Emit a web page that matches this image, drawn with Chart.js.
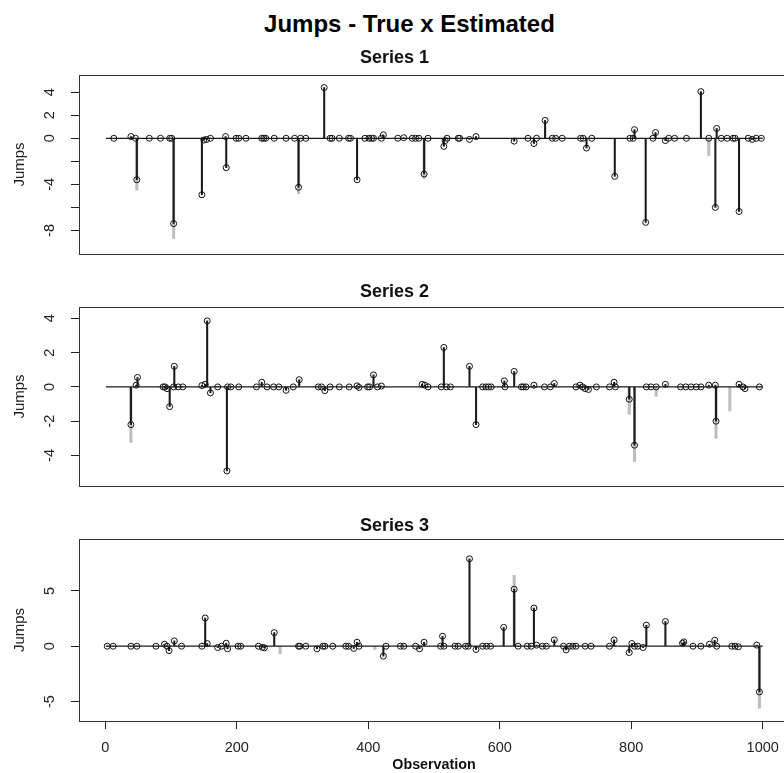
<!DOCTYPE html>
<html>
<head>
<meta charset="utf-8">
<title>Jumps - True x Estimated</title>
<script src="https://cdn.jsdelivr.net/npm/chart.js@4.4.1/dist/chart.umd.min.js"></script>
<style>
  html, body { margin: 0; padding: 0; background: #fff; overflow: hidden; }
  body { position: relative; width: 784px; height: 773px; }
  #main { position: absolute; left: 0; top: 12px; width: 819px; text-align: center;
          font: bold 24px "Liberation Sans", Arial, sans-serif; line-height: 24px; color: #000; }
  canvas { position: absolute; left: 0; }
</style>
</head>
<body>
<div id="main">Jumps - True x Estimated</div>
<canvas id="c1" width="867" height="219" style="top:40px"></canvas>
<canvas id="c2" width="867" height="219" style="top:272px"></canvas>
<canvas id="c3" width="867" height="269" style="top:504px"></canvas>
<script>
// observation axis
const xTicks = [0, 200, 400, 600, 800, 1000];
const zeroObs = [1, 1000];

// Series 1 : estimated jumps (circles + black spikes) and true jumps (grey spikes)
const est1Obs = [13, 39, 46, 48, 67, 84, 98, 101, 104, 147, 150, 154, 160, 183, 184, 199, 203, 214, 238, 241,
  244, 257, 275, 288, 294, 297, 305, 333, 342, 345, 356, 370, 373, 383, 395, 401, 405, 408, 420, 423,
  445, 454, 467, 472, 477, 485, 491, 515, 517, 520, 537, 539, 554, 564, 622, 643, 652, 656, 669, 680,
  685, 695, 723, 727, 732, 740, 775, 798, 803, 805, 822, 833, 837, 852, 857, 866, 884, 906, 918, 928,
  930, 937, 946, 955, 958, 964, 978, 984, 990, 998];
const est1Val = [0, 0.15, 0, -3.6, 0, 0, 0, 0, -7.4, -4.9, -0.15, -0.1, 0, 0.15, -2.55, 0, 0, 0, 0, 0,
  0, 0, 0, 0, -4.25, 0, 0, 4.4, 0, 0, 0, 0, 0, -3.6, 0, 0, 0, 0, 0, 0.3,
  0, 0.05, 0, 0, 0, -3.1, 0, -0.7, -0.2, 0, 0, 0, -0.1, 0.15, -0.25, 0, -0.45, 0, 1.55, 0,
  0, 0, 0, 0, -0.85, 0, -3.3, 0, 0, 0.75, -7.3, 0, 0.5, -0.2, 0, 0, 0, 4.05, 0, -6.0,
  0.85, 0, 0, 0, 0, -6.35, 0, -0.1, 0, 0];
const true1Obs = [48, 104, 294, 485, 918];
const true1Val = [-4.5, -8.7, -4.8, -3.5, -1.5];
const y1Ticks = [-8, -6, -4, -2, 0, 2, 4];
const y1Labels = [-8, -4, 0, 2, 4];

// Series 2
const est2Obs = [39, 47, 49, 88, 91, 94, 98, 104, 105, 111, 118, 147, 152, 155, 160, 171, 185, 186, 191, 203,
  230, 238, 246, 256, 264, 275, 286, 295, 324, 329, 334, 342, 356, 371, 383, 386, 399, 402, 408, 414,
  420, 482, 486, 491, 511, 515, 519, 525, 554, 564, 574, 579, 583, 587, 607, 608, 622, 633, 636, 640,
  652, 668, 677, 683, 716, 722, 726, 730, 735, 747, 767, 774, 776, 797, 805, 823, 830, 838, 852, 875,
  883, 891, 899, 906, 918, 928, 929, 964, 970, 973, 995];
const est2Val = [-2.2, 0.1, 0.55, 0, 0, -0.1, -1.15, 0, 1.2, 0, 0, 0.08, 0.15, 3.85, -0.35, 0, -4.9, 0, 0, 0,
  0, 0.27, 0, 0, 0, -0.2, 0, 0.42, 0, 0, -0.22, 0, 0, 0, 0.06, -0.03, 0, 0, 0.7, 0,
  0.05, 0.15, 0.1, 0, 0, 2.3, 0, 0, 1.2, -2.2, 0, 0, 0, 0, 0.35, 0, 0.9, 0, 0, 0,
  0.1, 0, 0, 0.2, 0, 0.1, 0, -0.1, -0.15, 0, 0, 0.27, 0, -0.72, -3.4, 0, 0, 0, 0.15, 0,
  0, 0, 0, 0, 0.1, 0.1, -2.0, 0.15, 0, -0.1, 0];
const true2Obs = [39, 797, 805, 838, 929, 950];
const true2Val = [-3.25, -1.6, -4.35, -0.55, -3.0, -1.4];
const y2Ticks = [-4, -2, 0, 2, 4];
const y2Labels = [-4, -2, 0, 2, 4];

// Series 3
const est3Obs = [3, 12, 39, 48, 77, 90, 94, 97, 105, 116, 147, 152, 155, 171, 177, 184, 186, 202, 206, 233,
  239, 242, 257, 294, 296, 305, 322, 331, 334, 346, 366, 370, 378, 383, 386, 423, 427, 449, 454, 472,
  478, 485, 510, 513, 515, 532, 537, 548, 552, 554, 564, 574, 580, 586, 606, 622, 628, 642, 648, 652,
  656, 665, 671, 683, 697, 701, 706, 711, 716, 730, 739, 767, 774, 797, 801, 805, 810, 818, 823, 852,
  878, 880, 894, 906, 919, 927, 930, 953, 958, 963, 991, 995];
const est3Val = [0, 0, 0, 0, 0, 0.18, 0, -0.4, 0.48, 0, 0, 2.55, 0.24, -0.12, 0, 0.27, -0.24, 0, 0, 0,
  -0.1, -0.15, 1.23, 0, 0, 0, -0.24, 0, 0, 0, 0, 0, -0.2, 0.36, 0, -0.9, 0, 0, 0, 0,
  -0.24, 0.36, 0, 0.9, 0, 0, 0, 0, 0, 7.9, -0.3, 0, 0, 0, 1.7, 5.15, 0, 0, 0, 3.45,
  0.1, 0, 0, 0.57, 0, -0.33, 0, 0, 0, 0, 0, 0, 0.57, -0.57, 0.24, 0, 0, -0.12, 1.9, 2.23,
  0.27, 0.39, 0, 0, 0.18, 0.54, 0, 0, 0, -0.05, 0.1, -4.13];
const true3Obs = [266, 410, 622, 995];
const true3Val = [-0.7, -0.3, 6.4, -5.6];
const y3Ticks = [-5, 0, 5];
const y3Labels = [-5, 0, 5];

const fontFamily = '"Liberation Sans", Arial, sans-serif';
Chart.defaults.font.family = fontFamily;
Chart.defaults.color = '#222';

function pts(xs, ys) {
  return xs.map((x, i) => ({ x: x, y: ys[i] }));
}

// box round the plot region and rotated y tick labels (R style)
const rBox = {
  id: 'rbox',
  afterDraw(chart, args, opts) {
    const a = chart.chartArea, ctx = chart.ctx, y = chart.scales.y;
    ctx.save();
    ctx.strokeStyle = '#333';
    ctx.lineWidth = 1;
    ctx.strokeRect(Math.round(a.left) + 0.5, Math.round(a.top) + 0.5,
      Math.round(a.right - a.left), Math.round(a.bottom - a.top));
    ctx.fillStyle = '#222';
    ctx.font = '14.5px ' + fontFamily;
    ctx.textAlign = 'center';
    ctx.textBaseline = 'middle';
    opts.labels.forEach(v => {
      ctx.save();
      ctx.translate(50, y.getPixelForValue(v));
      ctx.rotate(-Math.PI / 2);
      ctx.fillText(String(v), 0, 0);
      ctx.restore();
    });
    ctx.restore();
  }
};

function panel(id, title, est, tru, yMin, yMax, yTicks, yLabels, showX, titleShift) {
  return new Chart(document.getElementById(id), {
    type: 'bar',
    data: {
      datasets: [
        { type: 'bar', data: tru, backgroundColor: '#bebebe', barThickness: 2.4, grouped: false, order: 4 },
        { type: 'bar', data: est, backgroundColor: '#1a1a1a', barThickness: 1.4, grouped: false, order: 3 },
        { type: 'line', data: pts(zeroObs, [0, 0]), borderColor: '#1a1a1a', borderWidth: 1.2,
          pointRadius: 0, order: 2 },
        { type: 'scatter', data: est, pointRadius: 3, pointBorderWidth: 1, pointBorderColor: '#111',
          pointBackgroundColor: 'rgba(0,0,0,0)', order: 1 }
      ]
    },
    options: {
      responsive: false,
      animation: false,
      events: [],
      layout: { padding: { left: 0, right: 78, top: 0, bottom: showX ? 0 : 2 } },
      plugins: {
        legend: { display: false },
        tooltip: { enabled: false },
        title: { display: true, text: title, color: '#111',
          font: { size: 18, weight: 'bold' },
          padding: { top: 7.7 + titleShift, bottom: 5.7 - titleShift } },
        rbox: { labels: yLabels }
      },
      scales: {
        x: {
          type: 'linear', min: -39.96, max: 1040, offset: false, display: showX,
          afterBuildTicks: s => { s.ticks = xTicks.map(v => ({ value: v })); },
          afterFit: s => { s.height = showX ? 52 : 0; },
          grid: { drawOnChartArea: false, offset: false, tickLength: 8, tickColor: '#222' },
          border: { display: false },
          ticks: { font: { size: 14.5 }, padding: 10, color: '#222', maxRotation: 0,
            callback: v => String(v) },
          title: { display: true, text: 'Observation', color: '#111',
            font: { size: 14.3, weight: 'bold', lineHeight: 1.1 }, padding: { top: 0, bottom: 0 } }
        },
        y: {
          type: 'linear', min: yMin, max: yMax,
          afterBuildTicks: s => { s.ticks = yTicks.map(v => ({ value: v })); },
          afterFit: s => { s.width = 79; },
          grid: { drawOnChartArea: false, tickLength: 8, tickColor: '#222' },
          border: { display: false },
          ticks: { display: false },
          title: { display: true, text: 'Jumps', color: '#222', font: { size: 15 }, padding: { top: 11 } }
        }
      }
    },
    plugins: [rBox]
  });
}

panel('c1', 'Series 1', pts(est1Obs, est1Val), pts(true1Obs, true1Val), -10.04, 5.49, y1Ticks, y1Labels, false, 0);
panel('c2', 'Series 2', pts(est2Obs, est2Val), pts(true2Obs, true2Val), -5.78, 4.66, y2Ticks, y2Labels, false, 2);
panel('c3', 'Series 3', pts(est3Obs, est3Val), pts(true3Obs, true3Val), -6.76, 9.69, y3Ticks, y3Labels, true, 4);
</script>
</body>
</html>
